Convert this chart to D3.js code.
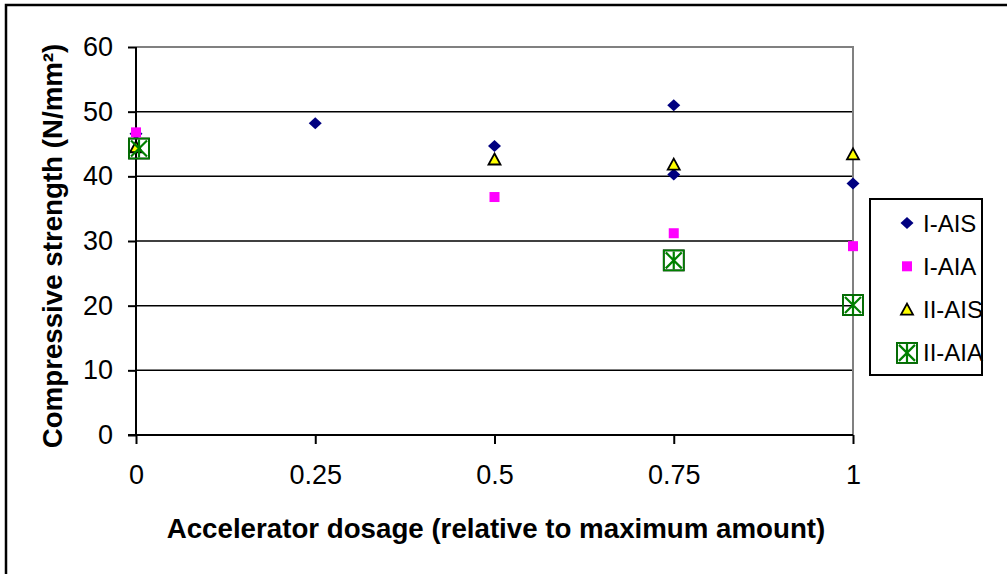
<!DOCTYPE html>
<html><head><meta charset="utf-8">
<script src="https://cdn.jsdelivr.net/npm/d3@7"></script>
<style>body{margin:0;background:#fff}svg{display:block;font-family:"Liberation Sans",Arial,sans-serif}</style>
</head><body>
<svg id="c" width="1007" height="574"></svg>
<script>
const xTicks = [0, 0.25, 0.5, 0.75, 1];
const xTickLabels = ["0", "0.25", "0.5", "0.75", "1"];
const yTicks = [0, 10, 20, 30, 40, 50, 60];
const seriesNames = ["I-AIS", "I-AIA", "II-AIS", "II-AIA"];
const iAIS_x = [0, 0.25, 0.5, 0.75, 0.75, 1];
const iAIS_y = [46.6, 48.2, 44.7, 51.0, 40.3, 38.9];
const iAIA_x = [0, 0.5, 0.75, 1];
const iAIA_y = [46.8, 36.8, 31.2, 29.2];
const iiAIS_x = [0, 0.5, 0.75, 1];
const iiAIS_y = [44.5, 42.6, 41.8, 43.4];
const iiAIA_x = [0, 0.75, 1];
const iiAIA_y = [44.3, 27.0, 20.1];
const xTitle = "Accelerator dosage (relative to maximum amount)";
const yTitle = "Compressive strength (N/mm²)";

const svg = d3.select("#c");
const L = 136, R = 853, T = 47, B = 435;
const x = d3.scaleLinear().domain([0, 1]).range([L, R]);
const y = d3.scaleLinear().domain([0, 60]).range([B, T]);

// outer frame
svg.append("rect").attr("x", 6).attr("y", 5).attr("width", 1010).attr("height", 600)
  .attr("fill", "none").attr("stroke", "#000").attr("stroke-width", 2.5);

// gridlines
svg.append("g").selectAll("line").data(yTicks.filter(d => d > 0 && d < 60)).join("line")
  .attr("x1", L).attr("x2", R).attr("y1", d => y(d)).attr("y2", d => y(d))
  .attr("stroke", "#000").attr("stroke-width", 1.5);
// plot border (gray) top and right
svg.append("path").attr("d", `M${L},${T}H${R}V${B}`).attr("fill", "none")
  .attr("stroke", "#808080").attr("stroke-width", 2);

// axes
const yAxis = d3.axisLeft(y).tickValues(yTicks).tickSize(8).tickPadding(15);
const gy = svg.append("g").attr("transform", `translate(${L},0)`).call(yAxis);
const xAxis = d3.axisBottom(x).tickValues(xTicks).tickFormat((d, i) => xTickLabels[i]).tickSize(9).tickPadding(21);
const gx = svg.append("g").attr("transform", `translate(0,${B})`).call(xAxis);
[gx, gy].forEach(g => {
  g.select(".domain").attr("stroke", "#000").attr("stroke-width", 2);
  g.selectAll(".tick line").attr("stroke", "#000").attr("stroke-width", 2);
  g.selectAll("text").attr("fill", "#000").attr("font-size", 27).attr("font-family", '"Liberation Sans",Arial,sans-serif');
});
gy.select(".domain").attr("d", `M-8,${B}H0V${T}`);
gx.select(".domain").attr("d", `M${L},0H${R}`);

// titles
svg.append("text").attr("x", 496).attr("y", 538).attr("text-anchor", "middle")
  .attr("font-weight", "bold").attr("font-size", 27.7).text(xTitle);
svg.append("text").attr("transform", `translate(62,246) rotate(-90)`).attr("text-anchor", "middle")
  .attr("font-weight", "bold").attr("font-size", 27.7).text(yTitle);

// marker drawers
function diamond(g) {
  g.append("path").attr("d", "M0,-6L6.5,0L0,6L-6.5,0Z").attr("fill", "#000080");
}
function square(g) {
  g.append("rect").attr("x", -5).attr("y", -5).attr("width", 10).attr("height", 10).attr("fill", "#ff00ff");
}
function triangle(g) {
  g.append("path").attr("d", "M0,-6L6,5L-6,5Z").attr("fill", "#ffff00").attr("stroke", "#000").attr("stroke-width", 1.8);
}
function boxStar(g) {
  g.append("rect").attr("x", -10).attr("y", -10).attr("width", 20).attr("height", 20)
    .attr("fill", "none").attr("stroke", "#000").attr("stroke-width", 1.8);
  g.append("path").attr("d", "M-8,-8L8,8M8,-8L-8,8M0,-9V9").attr("stroke", "#008000").attr("stroke-width", 2.2);
  g.append("rect").attr("x", -10).attr("y", -10).attr("width", 20).attr("height", 20)
    .attr("fill", "none").attr("stroke", "#008000").attr("stroke-width", 1.6);
}

const series = [
  { xs: iAIS_x, ys: iAIS_y, draw: diamond },
  { xs: iAIA_x, ys: iAIA_y, draw: square },
  { xs: iiAIS_x, ys: iiAIS_y, draw: triangle },
  { xs: iiAIA_x, ys: iiAIA_y, draw: boxStar }
];
const order = [0, 2, 3, 1];
order.forEach(si => {
  const s = series[si];
  s.xs.forEach((xv, i) => {
    const g = svg.append("g").attr("transform", `translate(${x(xv) + (si === 3 && xv === 0 ? 3 : 0)},${y(s.ys[i])})`);
    s.draw(g);
  });
});

// legend
const lg = svg.append("g");
lg.append("rect").attr("x", 870).attr("y", 199).attr("width", 112).attr("height", 176)
  .attr("fill", "#fff").attr("stroke", "#000").attr("stroke-width", 2);
seriesNames.forEach((n, i) => {
  const yy = 223 + i * 43.3;
  const g = lg.append("g").attr("transform", `translate(907,${yy})`);
  series[i].draw(g);
  lg.append("text").attr("x", 923).attr("y", yy + 8.5).attr("font-size", 24).text(n);
});
</script>
</body></html>
